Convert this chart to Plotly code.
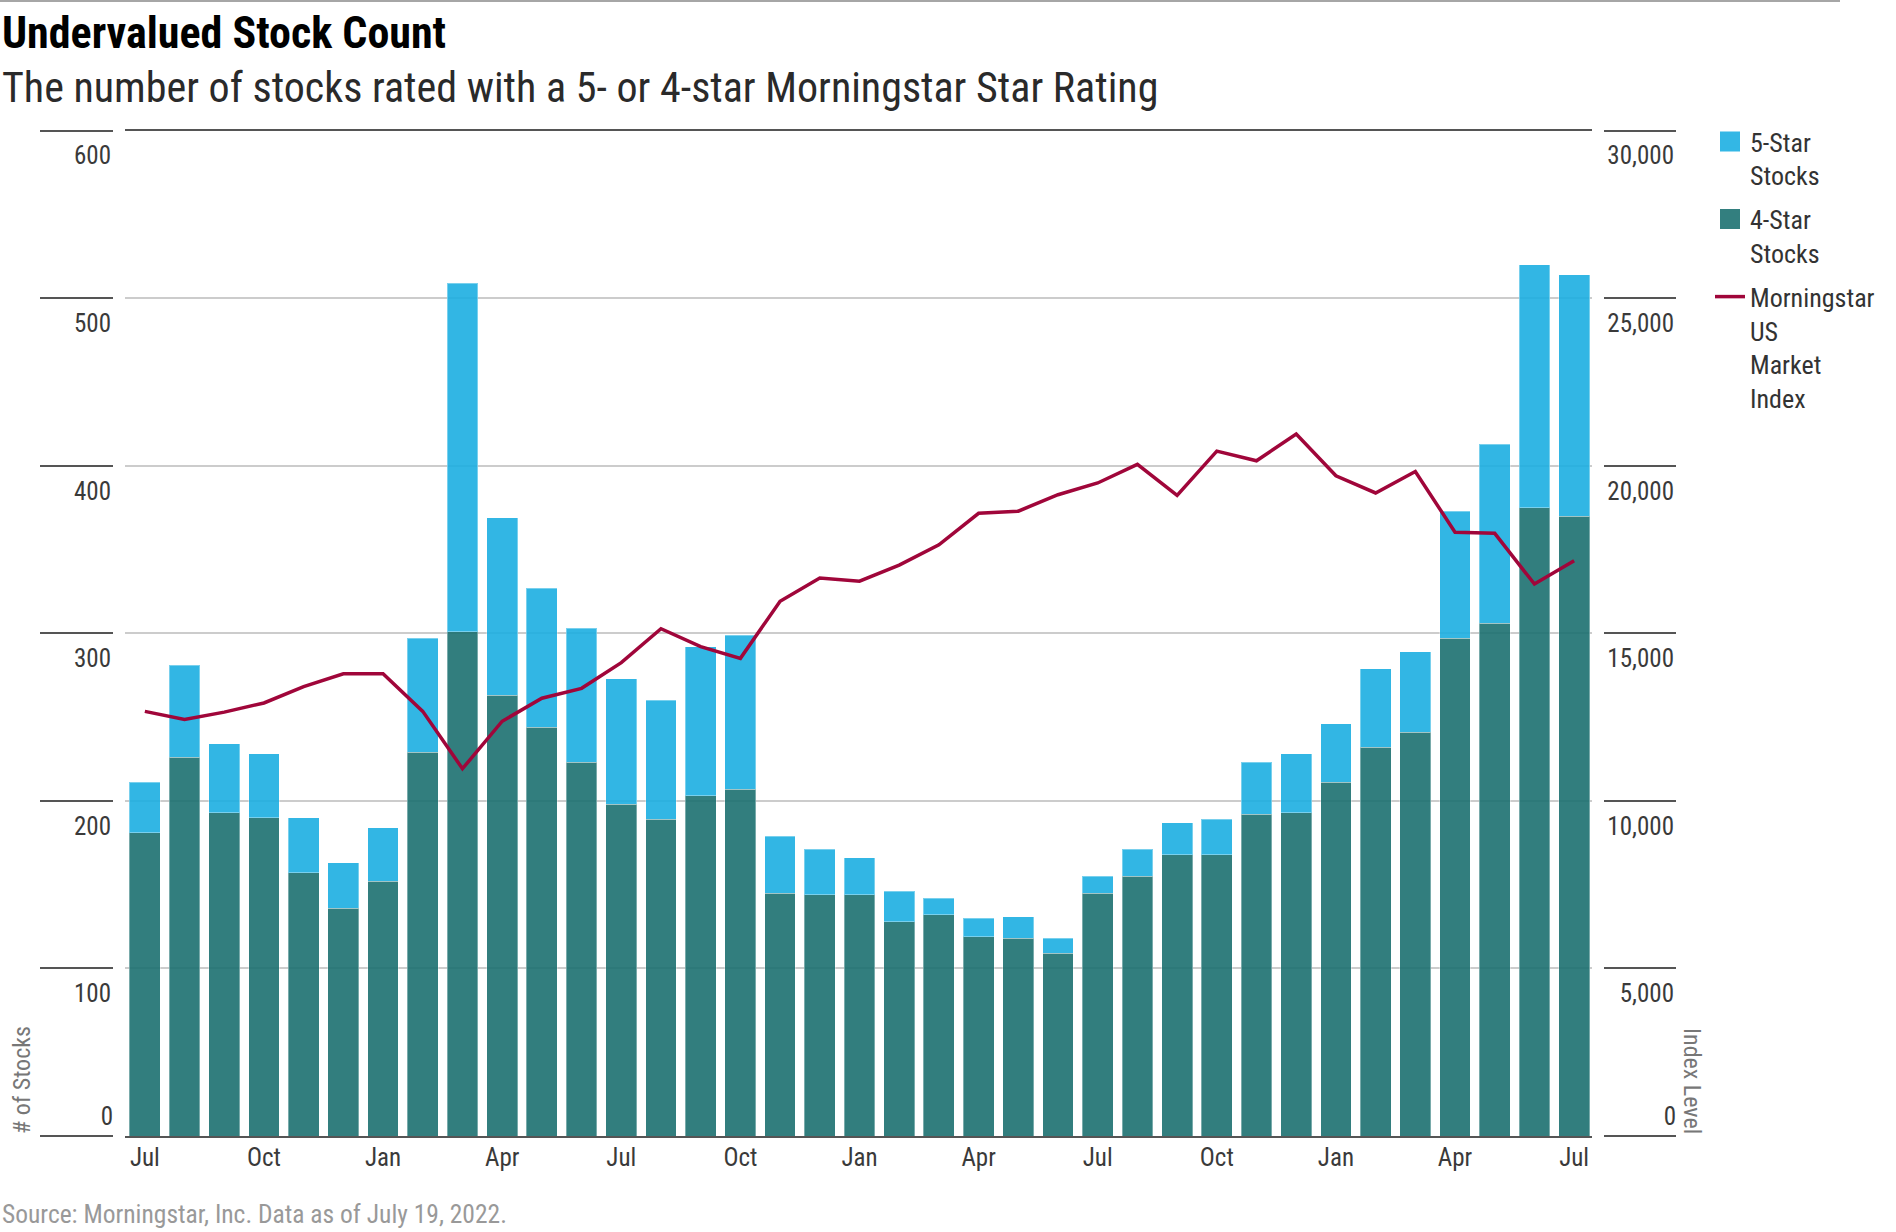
import plotly.graph_objects as go

# ---------------- data ----------------
months = [
    "Jul 2019", "Aug 2019", "Sep 2019", "Oct 2019", "Nov 2019", "Dec 2019",
    "Jan 2020", "Feb 2020", "Mar 2020", "Apr 2020", "May 2020", "Jun 2020",
    "Jul 2020", "Aug 2020", "Sep 2020", "Oct 2020", "Nov 2020", "Dec 2020",
    "Jan 2021", "Feb 2021", "Mar 2021", "Apr 2021", "May 2021", "Jun 2021",
    "Jul 2021", "Aug 2021", "Sep 2021", "Oct 2021", "Nov 2021", "Dec 2021",
    "Jan 2022", "Feb 2022", "Mar 2022", "Apr 2022", "May 2022", "Jun 2022",
    "Jul 2022",
]
four_star = [181, 226, 193, 190, 157, 136, 152, 229, 301, 263, 244, 223,
             198, 189, 203, 207, 145, 144, 144, 128, 132, 119, 118, 109,
             145, 155, 168, 168, 192, 193, 211, 232, 241, 297, 306, 375,
             370]
five_star = [30, 55, 41, 38, 33, 27, 32, 68, 208, 106, 83, 80,
             75, 71, 89, 92, 34, 27, 22, 18, 10, 11, 13, 9,
             10, 16, 19, 21, 31, 35, 35, 47, 48, 76, 107, 145,
             144]
index_level = [12672, 12432, 12650, 12922, 13413, 13795, 13795, 12672, 10960,
               12377, 13064, 13359, 14125, 15139, 14605, 14254, 15959, 16652,
               16557, 17036, 17644, 18582, 18646, 19136, 19488, 20043, 19115,
               20437, 20149, 20949, 19701, 19190, 19829, 18017, 17985, 16471,
               17164]

x_tick_vals = months[::3]
x_tick_text = ["Jul", "Oct", "Jan", "Apr", "Jul", "Oct", "Jan", "Apr",
               "Jul", "Oct", "Jan", "Apr", "Jul"]
left_tick_vals = [0, 100, 200, 300, 400, 500, 600]
left_tick_text = ["", "100", "200", "300", "400", "500", "600"]
right_tick_vals = [0, 5000, 10000, 15000, 20000, 25000, 30000]
right_tick_text = ["", "5,000", "10,000", "15,000", "20,000", "25,000", "30,000"]

series_names = ["5-Star<br>Stocks", "4-Star<br>Stocks", "Morningstar<br>US<br>Market<br>Index"]

# ---------------- styling ----------------
W, H = 1896, 1232
PL, PR, PT, PB = 125, 1592, 130.7, 1136   # plot area in px
FONT = "Liberation Sans Narrow, Roboto Condensed, DejaVu Sans Condensed, Arial Narrow, sans-serif"
BLUE = "rgb(28,175,226)"
TEAL = "rgb(28,113,113)"
RED = "#a0063a"
DARK = "#555555"


def px(xp):
    return xp / W


def py(yp):
    return (H - yp) / H


fig = go.Figure()

# legend-only entries for the bar series (larger square swatches)
fig.add_trace(go.Scatter(x=[None], y=[None], mode="markers", name=series_names[0],
                         legendrank=1, legendgroup="a",
                         marker=dict(symbol="square", size=16, color="rgb(51,183,229)",
                                     line=dict(color="rgb(51,183,229)", width=4))))
fig.add_trace(go.Scatter(x=[None], y=[None], mode="markers", name=series_names[1],
                         legendrank=2, legendgroup="b",
                         marker=dict(symbol="square", size=16, color="rgb(51,127,127)",
                                     line=dict(color="rgb(51,127,127)", width=4))))

fig.add_trace(go.Bar(x=months, y=four_star, name=series_names[1], showlegend=False,
                     legendgroup="b",
                     marker=dict(color=TEAL, opacity=0.9,
                                 line=dict(color="rgba(255,255,255,0.35)", width=1)),
                     hoverinfo="skip"))
fig.add_trace(go.Bar(x=months, y=five_star, name=series_names[0], showlegend=False,
                     legendgroup="a",
                     marker=dict(color=BLUE, opacity=0.9,
                                 line=dict(color="rgba(255,255,255,0.35)", width=1)),
                     hoverinfo="skip"))
fig.add_trace(go.Scatter(x=months, y=index_level, yaxis="y2", mode="lines",
                         name=series_names[2], legendrank=3, legendgroup="c",
                         line=dict(color=RED, width=3.5), hoverinfo="skip"))

# carriers for the separately-placed zero labels
fig.add_trace(go.Scatter(x=[None], y=[None], yaxis="y3", showlegend=False, hoverinfo="skip"))
fig.add_trace(go.Scatter(x=[None], y=[None], yaxis="y4", showlegend=False, hoverinfo="skip"))

tickfont = dict(family=FONT, size=25, color="#3a3a3a")

fig.update_layout(
    width=W, height=H,
    margin=dict(l=0, r=0, t=0, b=0),
    paper_bgcolor="white", plot_bgcolor="white",
    barmode="stack", bargap=0.224,
    font=dict(family=FONT, color="#333333"),
    xaxis=dict(type="category", categoryorder="array", categoryarray=months,
               domain=[px(PL), px(PR)], range=[-0.5, 36.45],
               tickmode="array", tickvals=x_tick_vals, ticktext=x_tick_text,
               tickfont=tickfont, ticks="", ticklabelstandoff=-2,
               showline=True, linecolor=DARK, linewidth=2, mirror=True,
               showgrid=False, zeroline=False, automargin=False),
    yaxis=dict(domain=[py(PB), py(PT)], range=[0, 600], anchor="free",
               position=px(113), side="left",
               tickmode="array", tickvals=left_tick_vals, ticktext=left_tick_text,
               tickfont=tickfont, ticks="outside", ticklen=73, tickwidth=2,
               tickcolor=DARK, ticklabelstandoff=-76, ticklabelshift=25,
               showgrid=True, gridcolor="#cccccc", gridwidth=1.5,
               zeroline=False, showline=False, automargin=False),
    yaxis2=dict(overlaying="y", range=[0, 30000], anchor="free",
                position=px(1676), side="left",
                tickmode="array", tickvals=right_tick_vals, ticktext=right_tick_text,
                tickfont=tickfont, ticks="outside", ticklen=72, tickwidth=2,
                tickcolor=DARK, ticklabelstandoff=-75, ticklabelshift=25,
                showgrid=False, zeroline=False, showline=False, automargin=False),
    yaxis3=dict(overlaying="y", range=[0, 600], anchor="free", position=px(113),
                side="left", tickmode="array", tickvals=[0], ticktext=["0"],
                tickfont=tickfont, ticks="", ticklabelshift=-20,
                showgrid=False, zeroline=False, showline=False, automargin=False),
    yaxis4=dict(overlaying="y", range=[0, 30000], anchor="free", position=px(1676),
                side="left", tickmode="array", tickvals=[0], ticktext=["0"],
                tickfont=tickfont, ticks="", ticklabelshift=-20,
                showgrid=False, zeroline=False, showline=False, automargin=False),
    legend=dict(x=px(1710), y=py(118), xanchor="left", yanchor="top",
                font=dict(family=FONT, size=26, color="#333333"),
                valign="top", bgcolor="rgba(0,0,0,0)", borderwidth=0,
                itemwidth=30, tracegroupgap=7, traceorder="grouped"),
    showlegend=True,
)

fig.add_annotation(text="<b>Undervalued Stock Count</b>", xref="paper", yref="paper",
                   x=0, y=py(33), xanchor="left", yanchor="middle", showarrow=False,
                   font=dict(family=FONT, size=44, color="#000000"))
fig.add_annotation(text="The number of stocks rated with a 5- or 4-star Morningstar Star Rating",
                   xref="paper", yref="paper", x=0, y=py(88), xanchor="left",
                   yanchor="middle", showarrow=False,
                   font=dict(family=FONT, size=42, color="#2a2a2a"))
fig.add_annotation(text="Source: Morningstar, Inc. Data as of July 19, 2022.",
                   xref="paper", yref="paper", x=0, y=py(1214), xanchor="left",
                   yanchor="middle", showarrow=False,
                   font=dict(family=FONT, size=25.5, color="#999999"))
fig.add_annotation(text="# of Stocks", xref="paper", yref="paper", x=px(22), y=py(PB),
                   xanchor="center", yanchor="bottom", textangle=-90, showarrow=False,
                   font=dict(family=FONT, size=24, color="#777777"))
fig.add_annotation(text="Index Level", xref="paper", yref="paper", x=px(1692), y=py(PB),
                   xanchor="center", yanchor="bottom", textangle=90, showarrow=False,
                   font=dict(family=FONT, size=24, color="#777777"))

fig.add_shape(type="line", xref="paper", yref="paper", x0=0, x1=px(1840),
              y0=py(1), y1=py(1), line=dict(color="#888888", width=1.5))

fig.write_html("out.html", config={"displayModeBar": False},
               post_script="document.body.style.margin='0';document.body.style.overflow='hidden';")
